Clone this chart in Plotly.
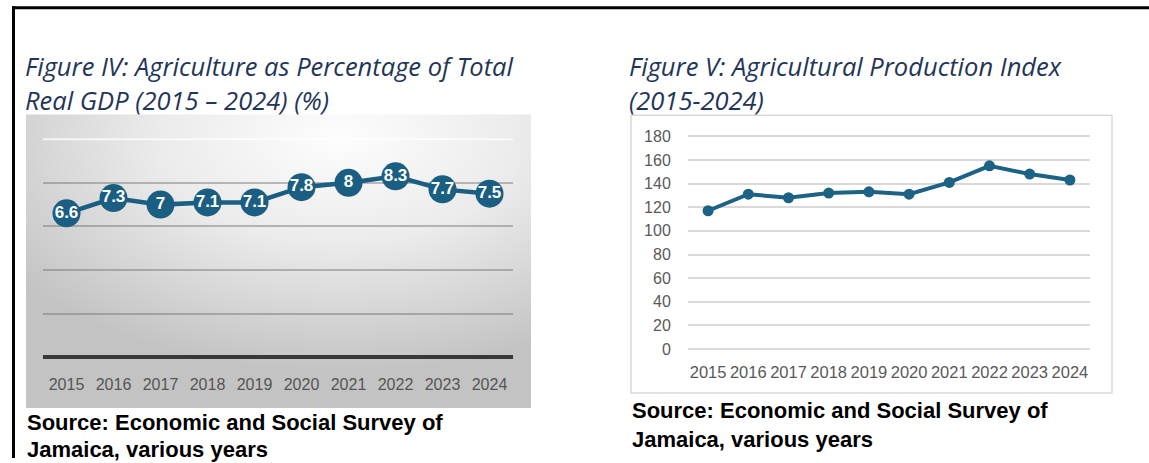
import base64
import plotly.graph_objects as go

# ---- data -------------------------------------------------------------
years = ["2015", "2016", "2017", "2018", "2019", "2020", "2021", "2022", "2023", "2024"]
agri_share_gdp = [6.6, 7.3, 7.0, 7.1, 7.1, 7.8, 8.0, 8.3, 7.7, 7.5]
agri_production_index = [117, 131, 128, 132, 133, 131, 141, 155, 148, 143]
share_labels = ["6.6", "7.3", "7", "7.1", "7.1", "7.8", "8", "8.3", "7.7", "7.5"]

W, H = 1149, 463
BLUE = "#1a5e82"
NAVY = "#1f3658"

# vertical placement grid (rows are given in page pixels)
ROW_SHIFT, ROW_SCALE = 4.66, 0.979


def fx(px):
    return px / W


def fy(px):
    return 1 - ((px - ROW_SHIFT) / ROW_SCALE) / H


fig = go.Figure()

# ---- left chart: share of real GDP -------------------------------------
fig.add_trace(go.Scatter(
    x=years, y=agri_share_gdp, text=share_labels,
    mode="lines+markers+text", textposition="middle center",
    textfont=dict(family="Liberation Sans Narrow, Arial Narrow, Liberation Sans, Arial",
                  size=17, color="white", weight="bold"),
    line=dict(color=BLUE, width=4.5),
    marker=dict(color=BLUE, size=28),
    cliponaxis=False, showlegend=False, hoverinfo="skip",
    xaxis="x", yaxis="y",
))

# ---- right chart: production index -------------------------------------
fig.add_trace(go.Scatter(
    x=years, y=agri_production_index, mode="lines+markers",
    line=dict(color="#1b6285", width=4),
    marker=dict(color="#1b6285", size=11),
    showlegend=False, hoverinfo="skip",
    xaxis="x2", yaxis="y2",
))

# pixel geometry of the two plot areas
L_x0, L_x1 = 43, 513
L_y0_val, L_y1_val = -0.3, 10.3
L_ppu = (357 - 139) / 10.0
L_bot = 357 - L_y0_val * L_ppu
L_top = 139 - (L_y1_val - 10) * L_ppu

R_x0, R_x1 = 688, 1090
R_y0_val, R_y1_val = -3, 183
R_ppu = (349 - 136) / 180.0
R_bot = 349 - R_y0_val * R_ppu
R_top = 136 - (R_y1_val - 180) * R_ppu

narrow = "Liberation Sans Narrow, Arial Narrow, Liberation Sans, Arial"
plain = "Liberation Sans, Arial, sans-serif"

# soft grey backdrop behind the left chart
svg = (
    '<svg xmlns="http://www.w3.org/2000/svg" width="505" height="294" '
    'viewBox="0 0 505 294" preserveAspectRatio="none">'
    '<defs><radialGradient id="g" cx="0.62" cy="0.08" r="0.8">'
    '<stop offset="0" stop-color="#fdfdfd"/>'
    '<stop offset="0.45" stop-color="#ebebeb"/>'
    '<stop offset="1" stop-color="#c3c3c3"/>'
    '</radialGradient></defs>'
    '<rect width="505" height="294" fill="url(#g)"/></svg>'
)
svg_uri = "data:image/svg+xml;base64," + base64.b64encode(svg.encode()).decode()

fig.update_layout(
    width=W, height=H,
    margin=dict(l=0, r=0, t=0, b=0),
    paper_bgcolor="white", plot_bgcolor="rgba(0,0,0,0)",
    xaxis=dict(
        domain=[fx(L_x0), fx(L_x1)], type="category", range=[-0.5, 9.5],
        showgrid=False, showline=False, zeroline=False,
        ticks="outside", ticklen=6, tickcolor="rgba(0,0,0,0)",
        tickfont=dict(family=narrow, size=16, color="#555555"),
        fixedrange=True,
    ),
    yaxis=dict(
        domain=[fy(L_bot), fy(L_top)], range=[L_y0_val, L_y1_val],
        tickvals=[2, 4, 6, 8], showticklabels=False,
        showgrid=True, gridcolor="rgba(110,110,110,0.45)", gridwidth=2,
        zeroline=True, zerolinecolor="#383838", zerolinewidth=3.5,
        showline=False, fixedrange=True,
    ),
    xaxis2=dict(
        domain=[fx(R_x0), fx(R_x1)], type="category", range=[-0.5, 9.5],
        showgrid=False, showline=False, zeroline=False,
        ticks="outside", ticklen=5, tickcolor="rgba(0,0,0,0)",
        tickfont=dict(family=plain, size=16.5, color="#595959"),
        anchor="y2", fixedrange=True,
    ),
    yaxis2=dict(
        domain=[fy(R_bot), fy(R_top)], range=[R_y0_val, R_y1_val],
        tickvals=list(range(0, 181, 20)),
        showgrid=True, gridcolor="#d9d9d9", gridwidth=1.5,
        zeroline=False, showline=False,
        ticks="outside", ticklen=13, tickcolor="rgba(0,0,0,0)",
        tickfont=dict(family=plain, size=16, color="#595959"),
        anchor="x2", fixedrange=True,
    ),
    images=[dict(
        source=svg_uri, xref="paper", yref="paper",
        x=fx(26), y=fy(114), sizex=fx(531) - fx(26), sizey=fy(114) - fy(408),
        xanchor="left", yanchor="top", sizing="stretch", layer="below",
    )],
)

shapes = [
    # faint top rule of the left chart
    dict(type="line", xref="x domain", yref="y", x0=0, x1=1, y0=10, y1=10,
         line=dict(color="rgba(255,255,255,0.7)", width=2)),
    # frame around the right chart
    dict(type="rect", xref="paper", yref="paper",
         x0=fx(631), x1=fx(1112), y0=fy(393), y1=fy(115),
         line=dict(color="#d9d9d9", width=1.5), layer="below"),
    # black page frame (top and left)
    dict(type="line", xref="paper", yref="paper",
         x0=fx(12), x1=1, y0=fy(7.5), y1=fy(7.5),
         line=dict(color="black", width=3)),
    dict(type="line", xref="paper", yref="paper",
         x0=fx(13.5), x1=fx(13.5), y0=0, y1=fy(6),
         line=dict(color="black", width=3)),
]
fig.update_layout(shapes=shapes)

title_font = dict(family="Open Sans, Noto Sans, sans-serif", size=25.5, color=NAVY, style="italic")
source_font = dict(family=plain, size=22, color="black", weight="bold")


def note(text, x, y, font):
    fig.add_annotation(text=text, xref="paper", yref="paper",
                       x=fx(x), y=fy(y), xanchor="left", yanchor="middle",
                       showarrow=False, font=font)


note("Figure IV: Agriculture as Percentage of Total", 23, 66, title_font)
note("Real GDP (2015 \u2013 2024) (%)", 23, 100, title_font)
note("Figure V: Agricultural Production Index", 627, 66, title_font)
note("(2015-2024)", 627, 100, title_font)

note("Source: Economic and Social Survey of", 25, 422, source_font)
note("Jamaica, various years", 25, 449, source_font)
note("Source: Economic and Social Survey of", 630, 410, source_font)
note("Jamaica, various years", 630, 439, source_font)

fig.write_html("out.html")
